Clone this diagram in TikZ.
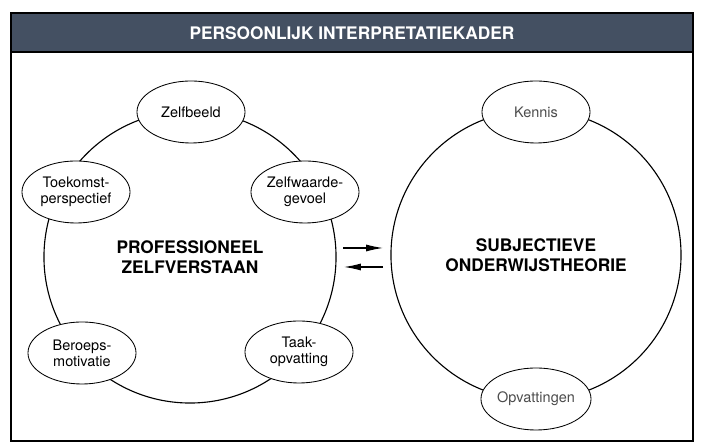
\documentclass[tikz,border=0pt]{standalone}
\usepackage{fontspec}
\setmainfont{TeX Gyre Heros}
\usetikzlibrary{shapes.geometric,arrows.meta}
\definecolor{kopkleur}{RGB}{68,80,98}
\begin{document}
\begin{tikzpicture}[x=0.025cm,y=0.025cm,
    deel/.style={ellipse, draw, line width=0.6pt, fill=white, inner sep=0pt,
      minimum width=2.7cm, minimum height=1.55cm, align=center,
      font=\fontsize{10.3}{11.2}\selectfont},
    licht/.style={deel, text=black!70},
    kring/.style={circle, draw, line width=0.8pt, inner sep=0pt, align=center,
      font=\bfseries\fontsize{12.3}{14.2}\selectfont},
    pijl/.style={line width=0.8pt, -{Latex[length=12pt,width=5pt]}}]
    \useasboundingbox (0,0) rectangle (706,445);
    % kader met kop
    \fill[kopkleur] (11,393) rectangle (693,432);
    \draw[line width=1pt] (11,4) rectangle (693,432);
    \draw[line width=1pt] (11,393) -- (693,393);
    \node[text=white, font=\bfseries\fontsize{12.3}{14}\selectfont] (kop) at (352,412) {PERSOONLIJK INTERPRETATIEKADER};
    % linker kring
    \node[kring, minimum size=7.3cm] (zelf) at (190,188) {PROFESSIONEEL\\ZELFVERSTAAN};
    \node[deel] (beeld) at (191,333) {Zelfbeeld};
    \node[deel] (toekomst) at (76,253) {Toekomst-\\perspectief};
    \node[deel] (waarde) at (305,253) {Zelfwaarde-\\gevoel};
    \node[deel] (beroep) at (82,92) {Beroeps-\\motivatie};
    \node[deel] (taak) at (299,93) {Taak-\\opvatting};
    % rechter kring
    \node[kring, minimum size=7.25cm] (theorie) at (536,190) {SUBJECTIEVE\\ONDERWIJSTHEORIE};
    \node[licht] (kennis) at (536,333) {Kennis};
    \node[licht] (opvat) at (536,46) {Opvattingen};
    % wisselwerking
    \coordinate (heen1) at (343,197);
    \coordinate (heen2) at (383,197);
    \coordinate (terug1) at (383,178);
    \coordinate (terug2) at (344,178);
    \draw[pijl] (heen1) -- (heen2);
    \draw[pijl] (terug1) -- (terug2);
\end{tikzpicture}
\end{document}
